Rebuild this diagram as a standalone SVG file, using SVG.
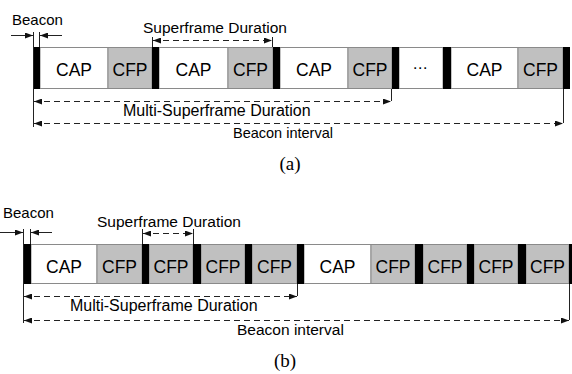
<svg xmlns="http://www.w3.org/2000/svg" width="572" height="374" viewBox="0 0 572 374">
<defs>
<marker id="ah" viewBox="0 0 8 6" refX="8" refY="3" markerWidth="8" markerHeight="6" markerUnits="userSpaceOnUse" orient="auto-start-reverse">
<path d="M0,0 L8,3 L0,6 Z" fill="#111"/>
</marker>
</defs>
<style>
.cap{fill:#fff;stroke:#8a8a8a;stroke-width:1}
.cfp{fill:#c0c0c0;stroke:#8a8a8a;stroke-width:1}
.bk{fill:#000}
.lbl{font-family:"Liberation Sans",Arial,sans-serif;fill:#000}
.blk{font-family:"Liberation Sans",Arial,sans-serif;font-size:17.5px;fill:#000;text-anchor:middle}
.cap-t{font-family:"Liberation Serif","Times New Roman",serif;font-size:19px;fill:#000;text-anchor:middle}
.v{stroke:#222;stroke-width:1;fill:none}
.d{stroke:#222;stroke-width:1;stroke-dasharray:6 4;fill:none}
.s{stroke:#222;stroke-width:1;fill:none}
</style>

<g id="frame-a">
<g id="a-cap1"><rect class="cap" x="40" y="47.5" width="68" height="41"/><text class="blk" x="74" y="76">CAP</text></g>
<g id="a-cfp1"><rect class="cfp" x="108" y="47.5" width="44" height="41"/><text class="blk" x="130" y="76">CFP</text></g>
<g id="a-cap2"><rect class="cap" x="159" y="47.5" width="69" height="41"/><text class="blk" x="193.5" y="76">CAP</text></g>
<g id="a-cfp2"><rect class="cfp" x="228" y="47.5" width="45" height="41"/><text class="blk" x="250.5" y="76">CFP</text></g>
<g id="a-cap3"><rect class="cap" x="280" y="47.5" width="68" height="41"/><text class="blk" x="314" y="76">CAP</text></g>
<g id="a-cfp3"><rect class="cfp" x="348" y="47.5" width="44" height="41"/><text class="blk" x="370" y="76">CFP</text></g>
<g id="a-dots"><rect class="cap" x="399" y="47.5" width="44" height="41"/><text x="420" y="73" style="font-family:'DejaVu Sans',sans-serif;font-size:15px;fill:#000;text-anchor:middle">⋯</text></g>
<g id="a-cap4"><rect class="cap" x="451" y="47.5" width="67" height="41"/><text class="blk" x="484.5" y="76">CAP</text></g>
<g id="a-cfp4"><rect class="cfp" x="518" y="47.5" width="45" height="41"/><text class="blk" x="540.5" y="76">CFP</text></g>
<g id="a-beacons">
<rect class="bk" x="33" y="47" width="7" height="42"/>
<rect class="bk" x="152" y="47" width="7" height="42"/>
<rect class="bk" x="273" y="47" width="7" height="42"/>
<rect class="bk" x="392" y="47" width="7" height="42"/>
<rect class="bk" x="443" y="47" width="8" height="42"/>
<rect class="bk" x="563" y="47" width="7" height="42"/>
</g>
</g>

<g id="frame-b">
<g id="b-cap1"><rect class="cap" x="31" y="244.5" width="66" height="39"/><text class="blk" x="64" y="273">CAP</text></g>
<g id="b-cfp1"><rect class="cfp" x="97" y="244.5" width="45" height="39"/><text class="blk" x="119.5" y="273">CFP</text></g>
<g id="b-cfp2"><rect class="cfp" x="149" y="244.5" width="44" height="39"/><text class="blk" x="171" y="273">CFP</text></g>
<g id="b-cfp3"><rect class="cfp" x="201" y="244.5" width="44" height="39"/><text class="blk" x="223" y="273">CFP</text></g>
<g id="b-cfp4"><rect class="cfp" x="252" y="244.5" width="45" height="39"/><text class="blk" x="274.5" y="273">CFP</text></g>
<g id="b-cap2"><rect class="cap" x="304" y="244.5" width="67" height="39"/><text class="blk" x="337.5" y="273">CAP</text></g>
<g id="b-cfp5"><rect class="cfp" x="371" y="244.5" width="44" height="39"/><text class="blk" x="393" y="273">CFP</text></g>
<g id="b-cfp6"><rect class="cfp" x="423" y="244.5" width="44" height="39"/><text class="blk" x="445" y="273">CFP</text></g>
<g id="b-cfp7"><rect class="cfp" x="474" y="244.5" width="44" height="39"/><text class="blk" x="496" y="273">CFP</text></g>
<g id="b-cfp8"><rect class="cfp" x="526" y="244.5" width="43" height="39"/><text class="blk" x="547.5" y="273">CFP</text></g>
<g id="b-beacons">
<rect class="bk" x="23" y="244" width="8" height="40"/>
<rect class="bk" x="142" y="244" width="7" height="40"/>
<rect class="bk" x="193" y="244" width="8" height="40"/>
<rect class="bk" x="245" y="244" width="7" height="40"/>
<rect class="bk" x="297" y="244" width="7" height="40"/>
<rect class="bk" x="415" y="244" width="8" height="40"/>
<rect class="bk" x="467" y="244" width="7" height="40"/>
<rect class="bk" x="518" y="244" width="8" height="40"/>
<rect class="bk" x="569" y="244" width="3" height="40"/>
</g>
</g>

<g id="connectors">
<line class="v" x1="33.5" y1="32" x2="33.5" y2="127"/>
<line class="v" x1="39.5" y1="32" x2="39.5" y2="47"/>
<line class="s" x1="11" y1="35.5" x2="33" y2="35.5" marker-end="url(#ah)"/>
<line class="s" x1="62" y1="35.5" x2="40" y2="35.5" marker-end="url(#ah)"/>
<line class="v" x1="152.5" y1="37" x2="152.5" y2="47"/>
<line class="v" x1="272.5" y1="37" x2="272.5" y2="47"/>
<line class="d" x1="153" y1="40.5" x2="272" y2="40.5" marker-start="url(#ah)" marker-end="url(#ah)"/>
<line class="v" x1="391.5" y1="89" x2="391.5" y2="101"/>
<line class="d" x1="34" y1="101.5" x2="391" y2="101.5" marker-start="url(#ah)" marker-end="url(#ah)"/>
<line class="v" x1="563.5" y1="89" x2="563.5" y2="123"/>
<line class="d" x1="34" y1="123.5" x2="563" y2="123.5" marker-start="url(#ah)" marker-end="url(#ah)"/>
<line class="v" x1="23.5" y1="229" x2="23.5" y2="323"/>
<line class="v" x1="30.5" y1="229" x2="30.5" y2="244"/>
<line class="s" x1="0" y1="232.5" x2="23" y2="232.5" marker-end="url(#ah)"/>
<line class="s" x1="52" y1="232.5" x2="31" y2="232.5" marker-end="url(#ah)"/>
<line class="v" x1="142.5" y1="229" x2="142.5" y2="244"/>
<line class="v" x1="193.5" y1="229" x2="193.5" y2="244"/>
<line class="d" x1="143" y1="233.5" x2="193" y2="233.5" marker-start="url(#ah)" marker-end="url(#ah)"/>
<line class="v" x1="297.5" y1="284" x2="297.5" y2="296"/>
<line class="d" x1="24" y1="296.5" x2="297" y2="296.5" marker-start="url(#ah)" marker-end="url(#ah)"/>
<line class="v" x1="569.5" y1="284" x2="569.5" y2="320"/>
<line class="d" x1="24" y1="320.5" x2="569" y2="320.5" marker-start="url(#ah)" marker-end="url(#ah)"/>
</g>

<g id="labels">
<text class="lbl" x="12" y="25" style="font-size:15px">Beacon</text>
<text class="lbl" x="143" y="33" style="font-size:15.5px">Superframe Duration</text>
<text class="lbl" x="123" y="116" style="font-size:16px">Multi-Superframe Duration</text>
<text class="lbl" x="233" y="138" style="font-size:14.5px">Beacon interval</text>
<text class="cap-t" x="290" y="170">(a)</text>
<text class="lbl" x="3" y="218" style="font-size:15px">Beacon</text>
<text class="lbl" x="97" y="227" style="font-size:15.5px">Superframe Duration</text>
<text class="lbl" x="70" y="311" style="font-size:16px">Multi-Superframe Duration</text>
<text class="lbl" x="237" y="335" style="font-size:15.5px">Beacon interval</text>
<text class="cap-t" x="285" y="367">(b)</text>
</g>
</svg>
